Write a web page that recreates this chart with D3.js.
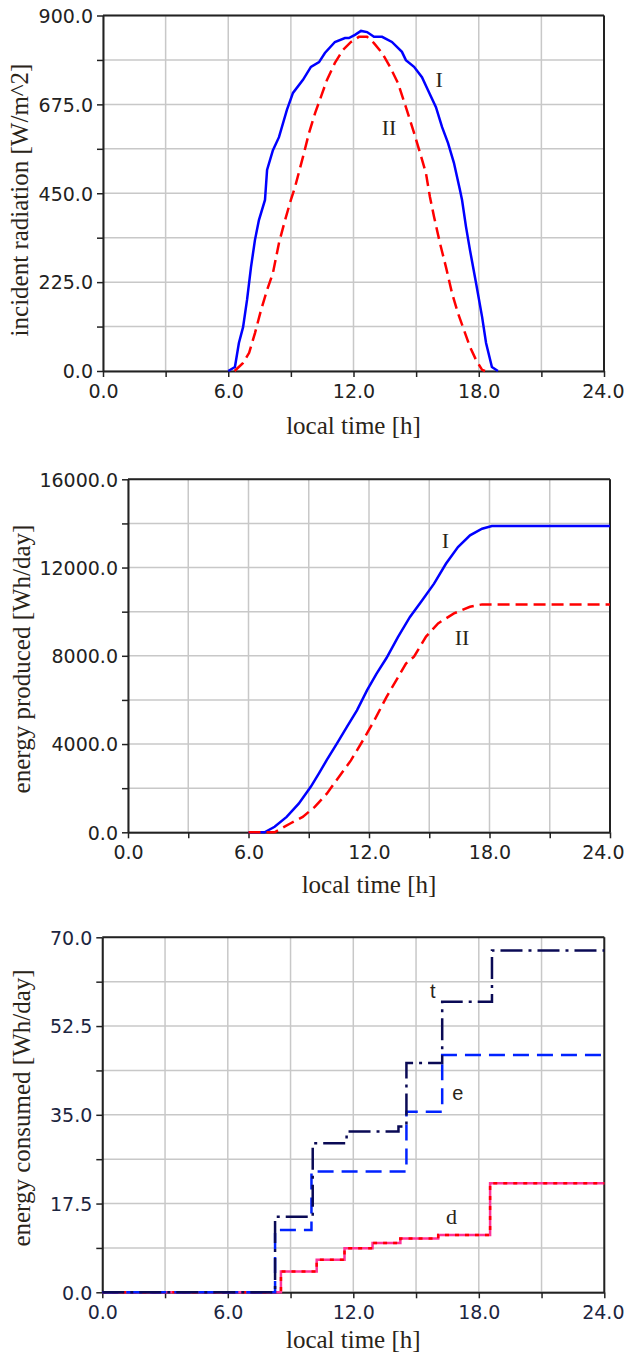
<!DOCTYPE html>
<html><head><meta charset="utf-8">
<script src="https://cdn.jsdelivr.net/npm/d3@7"></script>
<style>
html,body{margin:0;padding:0;background:#fff;}
svg{display:block;}
</style></head>
<body>
<script>
// ---------- DATA ----------
// Chart 1: incident radiation [W/m^2] vs local time [h]
const radTimeI = [6.0,6.32,6.51,6.71,6.9,7.09,7.28,7.47,7.76,7.86,8.14,8.43,8.81,9.1,9.58,9.96,10.35,10.63,11.11,11.59,11.78,12.07,12.36,12.65,12.98,13.37,13.84,14.32,14.51,14.9,15.28,15.57,15.95,16.24,16.53,16.81,17.1,17.2,17.39,17.58,17.87,18.16,18.35,18.63,18.92];
const radI = [0,10,71,111,180,263,332,382,433,509,559,592,661,704,737,770,782,805,833,843,843,851,861,858,846,846,833,808,787,770,744,711,668,618,577,527,458,433,365,306,223,137,71,10,0];
const radTimeII = [6.3,6.7,7.0,7.28,7.57,7.86,8.14,8.43,8.72,9.0,9.2,9.58,9.87,10.16,10.44,10.73,11.11,11.5,11.88,12.26,12.65,12.98,13.37,13.75,14.13,14.51,14.9,15.19,15.47,15.66,15.86,16.14,16.43,16.72,17.0,17.29,17.58,17.87,18.16,18.3];
const radII = [0,20,46,96,154,205,248,324,382,433,466,542,603,653,694,737,780,813,833,846,846,830,805,770,729,668,603,552,501,441,390,324,263,197,147,104,61,28,3,0];

// Chart 2: energy produced [Wh/day]
const prodTimeI = [6.0,6.8,7.3,7.9,8.5,9.1,9.5,9.9,10.4,10.9,11.4,11.9,12.37,12.87,13.44,14.04,14.64,15.24,15.83,16.43,17.03,17.63,18.12,24.0];
const prodI = [0,0,250,700,1300,2060,2660,3280,4020,4780,5530,6430,7180,7900,8850,9760,10510,11270,12170,12930,13460,13760,13880,13880];
const prodTimeII = [6.0,7.3,8.1,8.7,9.3,9.9,10.5,11.1,11.7,12.27,12.87,13.46,13.84,14.24,14.84,15.44,16.23,17.03,17.63,24.0];
const prodII = [0,0,410,700,1150,1750,2510,3260,4170,5080,6130,7050,7650,7960,8870,9470,9920,10220,10330,10330];

// Chart 3: energy consumed [Wh/day] (step functions: value after each change time)
const consTimeT = [0,8.26,10.06,11.68,14.16,14.54,16.25,18.63,24];
const consT = [0,14.9,29.4,31.7,32.7,45.2,57.3,67.4,67.4];
const consTimeE = [0,8.26,10.0,14.54,16.25,24];
const consE = [0,12.3,23.8,35.6,46.8,46.8];
const consTimeD = [0,8.54,10.25,11.58,12.92,14.25,16.06,18.54,24];
const consD = [0,4.1,6.4,8.7,9.7,10.6,11.3,21.5,21.5];

const xTicks = [0,6,12,18,24];
const xGrid = [0,3,6,9,12,15,18,21,24];
const yTicks1 = [0,225,450,675,900];
const yTicks2 = [0,4000,8000,12000,16000];
const yTicks3 = [0,17.5,35,52.5,70];

// ---------- DRAW ----------
const W = 625, H = 1352;
const svg = d3.select("body").append("svg").attr("width", W).attr("height", H);
svg.append("rect").attr("width", W).attr("height", H).attr("fill", "#fff");

const tickFont = "'DejaVu Sans', sans-serif";
const titleFont = "'Liberation Serif', 'Times New Roman', serif";

function panel(cfg) {
  const x = d3.scaleLinear().domain([0, 24]).range([cfg.left, cfg.right]);
  const y = d3.scaleLinear().domain([0, cfg.ymax]).range([cfg.bottom, cfg.top]);
  const g = svg.append("g");
  const yGrid = d3.range(0, 9).map(i => cfg.ymax * i / 8);
  // grid
  g.selectAll(".gx").data(xGrid).enter().append("line")
    .attr("x1", d => x(d)).attr("x2", d => x(d)).attr("y1", cfg.top).attr("y2", cfg.bottom)
    .attr("stroke", "#c8c8c8").attr("stroke-width", 1.5);
  g.selectAll(".gy").data(yGrid).enter().append("line")
    .attr("x1", cfg.left).attr("x2", cfg.right).attr("y1", d => y(d)).attr("y2", d => y(d))
    .attr("stroke", "#c8c8c8").attr("stroke-width", 1.5);
  // frame top/right
  g.append("line").attr("x1", cfg.left).attr("x2", cfg.right).attr("y1", cfg.top).attr("y2", cfg.top)
    .attr("stroke", "#222").attr("stroke-width", 2);
  g.append("line").attr("x1", cfg.right).attr("x2", cfg.right).attr("y1", cfg.top).attr("y2", cfg.bottom)
    .attr("stroke", "#222").attr("stroke-width", 2);
  // axes
  const xa = g.append("g").attr("transform", `translate(0,${cfg.bottom})`)
    .call(d3.axisBottom(x).tickValues(xGrid).tickSize(6).tickSizeOuter(0)
      .tickFormat(d => xTicks.includes(d) ? d3.format(".1f")(d) : ""));
  const ya = g.append("g").attr("transform", `translate(${cfg.left},0)`)
    .call(d3.axisLeft(y).tickValues(yGrid).tickSize(6).tickSizeOuter(0)
      .tickFormat(d => cfg.yTicks.some(t => Math.abs(t - d) < 1e-9) ? d3.format(".1f")(d) : ""));
  [xa, ya].forEach(a => {
    a.select(".domain").attr("stroke", "#222").attr("stroke-width", 2);
    a.selectAll(".tick line").attr("stroke", "#222").attr("stroke-width", 1.5);
    a.selectAll("text").attr("font-family", tickFont).attr("font-size", cfg.tickSize)
      .attr("fill", cfg.tickColor);
  });
  xa.selectAll("text").attr("dy", "0.95em").attr("y", 9);
  // keep the last x label inside the page
  xa.selectAll(".tick").filter(d => d === 24).select("text")
    .attr("text-anchor", "end").attr("x", W - 1 - cfg.right);
  ya.selectAll("text").attr("x", -10).attr("dy", "0.36em");
  // titles
  svg.append("text").attr("x", (cfg.left + cfg.right) / 2).attr("y", cfg.xTitleY)
    .attr("text-anchor", "middle").attr("font-family", titleFont).attr("font-size", 25)
    .attr("fill", "#2a2418").text("local time [h]");
  svg.append("text").attr("transform", `translate(${cfg.yTitleX},${cfg.yTitleCY}) rotate(-90)`)
    .attr("text-anchor", "middle").attr("font-family", titleFont).attr("font-size", 25)
    .attr("fill", "#2a2418").text(cfg.yTitle);
  // lines
  cfg.series.forEach(s => {
    const pts = s.t.map((t, i) => [t, s.v[i]]);
    const line = d3.line().x(d => x(d[0])).y(d => y(d[1]));
    if (s.step) line.curve(d3.curveStepAfter);
    s.styles.forEach(st => {
      g.append("path").datum(pts).attr("d", line).attr("fill", "none")
        .attr("stroke", st.color).attr("stroke-width", st.width)
        .attr("stroke-dasharray", st.dash || null);
    });
  });
  // labels
  cfg.labels.forEach(l => {
    svg.append("text").attr("x", x(l.t)).attr("y", y(l.v)).attr("text-anchor", "middle")
      .attr("font-family", l.font).attr("font-size", l.size).attr("fill", "#2a2418").text(l.text);
  });
}

panel({
  left: 103, right: 604, top: 15.5, bottom: 371, ymax: 900, yTicks: yTicks1,
  tickSize: 19, tickColor: "#222",
  xTitleY: 434, yTitleX: 28, yTitleCY: 200, yTitle: "incident radiation [W/m^2]",
  series: [
    {t: radTimeI, v: radI, styles: [{color: "#0000ff", width: 2.5}]},
    {t: radTimeII, v: radII, styles: [{color: "#ff0000", width: 2.5, dash: "12,6"}]}
  ],
  labels: [
    {text: "I", t: 16.1, v: 719, font: titleFont, size: 22},
    {text: "II", t: 13.7, v: 597, font: titleFont, size: 22}
  ]
});

panel({
  left: 128, right: 610, top: 479.3, bottom: 832.3, ymax: 16000, yTicks: yTicks2,
  tickSize: 19, tickColor: "#222",
  xTitleY: 893, yTitleX: 30, yTitleCY: 659, yTitle: "energy produced [Wh/day]",
  series: [
    {t: prodTimeI, v: prodI, styles: [{color: "#0000ff", width: 2.5}]},
    {t: prodTimeII, v: prodII, styles: [{color: "#ff0000", width: 2.5, dash: "12,6"}]}
  ],
  labels: [
    {text: "I", t: 15.8, v: 12900, font: titleFont, size: 22},
    {text: "II", t: 16.63, v: 8490, font: titleFont, size: 22}
  ]
});

panel({
  left: 102.3, right: 604.3, top: 937.3, bottom: 1292.3, ymax: 70, yTicks: yTicks3,
  tickSize: 19, tickColor: "#1c2540",
  xTitleY: 1348, yTitleX: 30, yTitleCY: 1108, yTitle: "energy consumed [Wh/day]",
  series: [
    {t: consTimeD, v: consD, step: true, styles: [{color: "#ff3399", width: 2.5}, {color: "#ff0000", width: 2.5, dash: "4,6"}]},
    {t: consTimeE, v: consE, step: true, styles: [{color: "#0022ff", width: 2.5, dash: "16,8"}]},
    {t: consTimeT, v: consT, step: true, styles: [{color: "#0a0a55", width: 2.5, dash: "22,6,3,6"}]}
  ],
  labels: [
    {text: "t", t: 15.8, v: 58, font: "'Liberation Sans', Arial, sans-serif", size: 20},
    {text: "e", t: 17.0, v: 38, font: "'Liberation Sans', Arial, sans-serif", size: 20},
    {text: "d", t: 16.7, v: 13.5, font: titleFont, size: 22}
  ]
});
</script>
</body></html>
